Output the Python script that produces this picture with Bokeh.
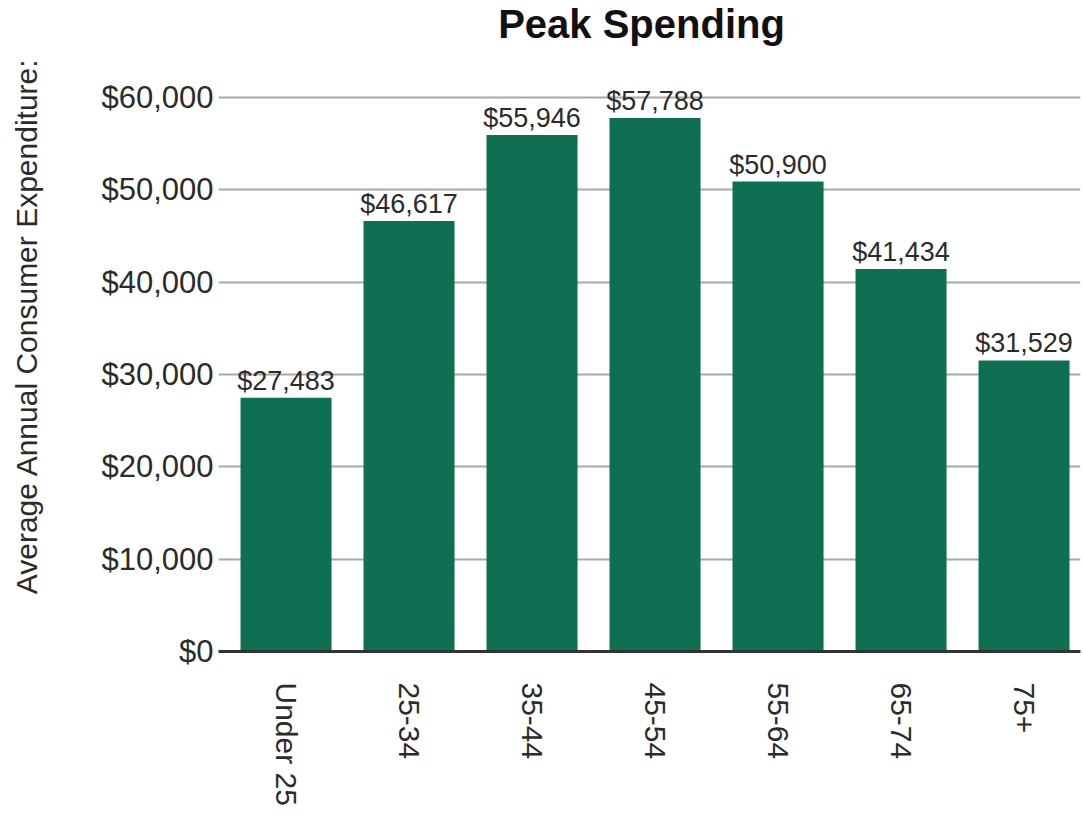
import math
from bokeh.plotting import figure
from bokeh.models import (ColumnDataSource, Range1d, FixedTicker, NumeralTickFormatter, Label)
from bokeh.core.properties import value
from bokeh.embed import file_html
from bokeh.resources import INLINE

# ---- data ----
categories = ["Under 25", "25-34", "35-44", "45-54", "55-64", "65-74", "75+"]
spending = [27483, 46617, 55946, 57788, 50900, 41434, 31529]
y_ticks = [0, 10000, 20000, 30000, 40000, 50000, 60000]
title_text = "Peak Spending"
y_label = "Average Annual Consumer Expenditure:"

FONT = "Liberation Sans"
idx = list(range(len(categories)))
src = ColumnDataSource(dict(
    x=idx,
    top=spending,
    lab=["${:,}".format(v) for v in spending],
))

p = figure(width=1083, height=818, output_backend="svg", toolbar_location=None,
           x_range=Range1d(-0.549, 6.459), y_range=Range1d(0, 70505),
           min_border_left=218, min_border_right=3, min_border_top=0,
           min_border_bottom=167)
p.outline_line_color = None
p.background_fill_color = "white"
p.border_fill_color = "white"

p.vbar(x="x", top="top", width=0.74, source=src, fill_color="#0e6f53",
       line_color=None)
p.text(x="x", y="top", text="lab", source=src, text_align="center",
       text_baseline="alphabetic", y_offset=-17, text_font=value(FONT),
       text_font_size="27px", text_color="#2b2b2b")

# x axis
xa = p.xaxis[0]
xa.ticker = FixedTicker(ticks=idx)
xa.major_label_overrides = {i: c for i, c in zip(idx, categories)}
xa.major_label_orientation = -math.pi / 2
xa.major_label_text_font = FONT
xa.major_label_text_font_size = "30px"
xa.major_label_text_color = "#2b2b2b"
xa.major_label_standoff = 25
xa.major_tick_line_color = None
xa.minor_tick_line_color = None
xa.axis_line_color = "#333333"
xa.axis_line_width = 3

# y axis
ya = p.yaxis[0]
ya.ticker = FixedTicker(ticks=y_ticks)
ya.formatter = NumeralTickFormatter(format="$0,0")
ya.major_label_text_font = FONT
ya.major_label_text_font_size = "31px"
ya.major_label_text_color = "#2b2b2b"
ya.major_label_standoff = -1
ya.major_tick_line_color = None
ya.minor_tick_line_color = None
ya.axis_line_color = None
ya.axis_label = y_label
ya.axis_label_text_font = FONT
ya.axis_label_text_font_size = "30px"
ya.axis_label_text_font_style = "normal"
ya.axis_label_text_color = "#2b2b2b"
ya.axis_label_standoff = 55

p.xgrid.grid_line_color = None
p.ygrid.ticker = FixedTicker(ticks=y_ticks)
p.ygrid.grid_line_color = "#a8a8a8"
p.ygrid.grid_line_width = 2

title = Label(x=423, y=628, x_units="screen", y_units="screen", text=title_text,
              text_align="center", text_baseline="alphabetic",
              text_font=FONT, text_font_size="40px", text_font_style="bold",
              text_color="#111111")
p.add_layout(title)

open("out.html", "w").write(file_html(p, INLINE))
